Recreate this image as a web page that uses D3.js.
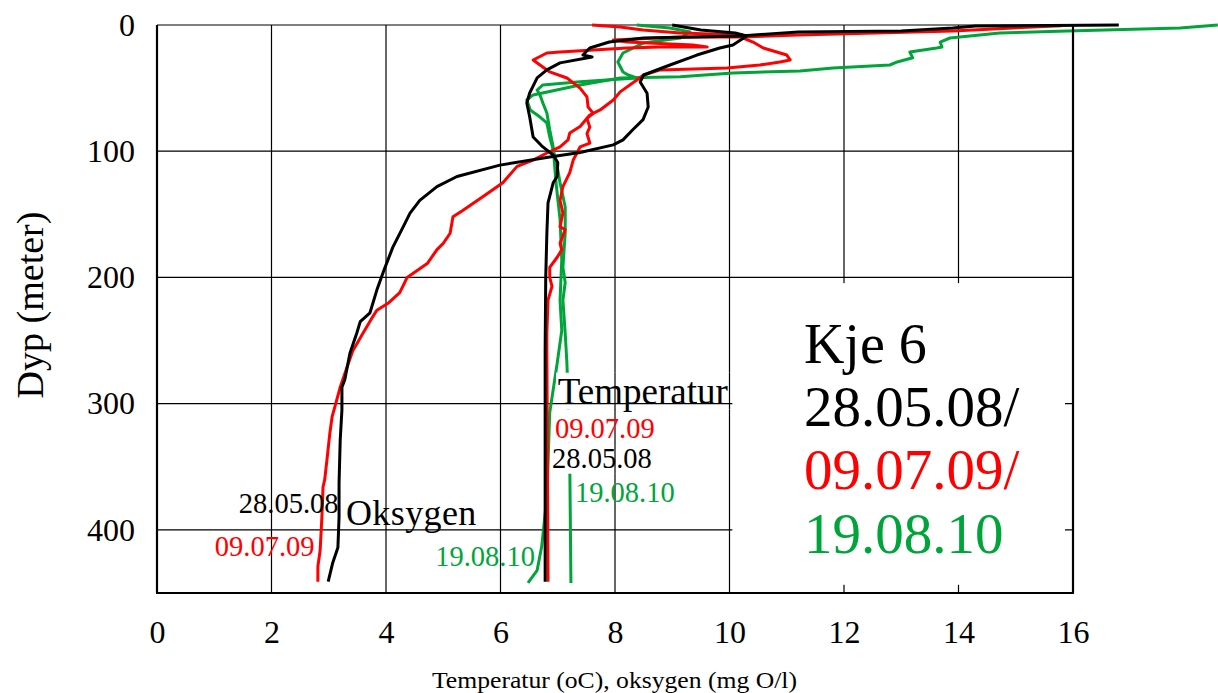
<!DOCTYPE html>
<html>
<head>
<meta charset="utf-8">
<script src="https://cdn.jsdelivr.net/npm/d3@7"></script>
<style>
  body { margin: 0; background: #fff; }
  svg { display: block; font-family: "Liberation Serif", "Times New Roman", serif; }
</style>
</head>
<body>
<div id="chart"></div>
<script>
// axis ticks
var tempTicks = [0, 2, 4, 6, 8, 10, 12, 14, 16];
var depthTicks = [0, 100, 200, 300, 400];

// profiles as [value, depth]
// 28.05.08
var tempBlack = [[16.8,0],[14.3,0.8],[13.9,2.4],[13.0,4.8],[11.2,5.5],[10.2,8.7],[9.4,9.5],[8.5,10.3],[7.9,13.5],[7.56,18.2],[7.44,23.8],[7.6,25.3],[7.04,30],[6.81,35.6],[6.64,41.9],[6.51,53.9],[6.46,61.8],[6.51,72.9],[6.57,88.7],[6.74,96.6],[6.92,103],[7.0,109],[6.99,120],[6.92,125],[6.83,141],[6.81,165],[6.79,200],[6.78,257],[6.78,441]];
var oxyBlack = [[9.0,0],[9.3,2.4],[9.5,4],[10.1,6.3],[10.3,8.7],[10.06,15.8],[9.83,18.2],[9.43,23.8],[9.3,26.1],[8.96,31.7],[8.5,39.6],[8.44,45.1],[8.56,54],[8.58,65],[8.49,75],[8.31,83],[8.14,91],[7.97,95],[7.39,101],[6.86,104.5],[5.99,111],[5.24,120],[4.89,128],[4.59,139],[4.42,149],[4.3,160],[4.12,176],[3.95,196],[3.84,210],[3.72,228],[3.55,235],[3.49,244],[3.37,260],[3.28,281],[3.23,287],[3.23,305],[3.2,329],[3.18,363],[3.18,390],[3.16,414],[3.07,426],[2.99,441]];
// 09.07.09
var tempRed = [[15.8,0.5],[13.9,4.7],[11.2,8],[10.2,9.5],[9.1,9.5],[7.97,11.9],[8.21,13.5],[9.36,15.8],[9.61,17.4],[8.79,17.4],[8.21,18.2],[7.62,19.8],[7.04,21.4],[6.81,22.2],[6.57,27.7],[6.69,31.7],[6.86,37.2],[7.16,42],[7.39,50],[7.51,57],[7.53,65],[7.62,70],[7.51,74],[7.56,81],[7.51,86],[7.56,93.5],[7.39,96.6],[7.27,107],[7.21,117],[7.09,128],[7.04,139],[7.09,149],[7.04,160],[7.13,162],[7.04,173],[7.07,178],[6.99,184],[6.86,192],[6.86,200],[6.9,207],[6.83,218],[6.81,244],[6.81,257],[6.83,441]];
var oxyRed = [[7.6,0],[8.09,1.6],[8.49,4],[9.14,6.3],[10.22,8],[10.24,10.3],[10.41,13.5],[10.59,18.2],[11.0,23.8],[11.06,27.7],[10.88,29.3],[10.53,31.7],[9.96,34],[8.79,35.6],[8.5,39.6],[8.38,43.6],[8.09,53],[7.97,59.4],[7.74,67.3],[7.56,71.3],[7.39,80.4],[7.21,85.5],[7.18,91],[7.04,96.6],[6.81,101.4],[6.57,107],[6.29,112],[6.04,125],[5.69,136],[5.34,147],[5.17,152],[5.12,165],[5.0,173],[4.89,178],[4.72,189],[4.37,200],[4.24,212],[4.05,220],[3.84,226],[3.77,231],[3.6,244],[3.42,258],[3.32,271],[3.2,287],[3.11,302],[3.06,310],[3.02,323],[2.97,344],[2.93,360],[2.9,366],[2.88,390],[2.85,416],[2.81,429],[2.81,441]];
// 19.08.10
var tempGreen = [[18.53,0],[17.87,2.4],[15.9,4.8],[14.72,6.3],[13.85,10.3],[13.68,13.5],[13.71,17.4],[13.62,18.2],[13.15,21.4],[13.2,26],[12.93,29.3],[12.8,31.7],[11.81,34],[11.23,36.4],[10.06,38],[9.14,41],[8.09,42],[7.39,47.5],[6.57,55.4],[6.46,59.4],[6.52,67.3],[6.69,72.9],[6.81,77.6],[6.86,88.7],[6.92,99],[6.99,112],[7.04,125],[7.13,144],[7.13,165],[7.09,192],[7.13,204],[7.09,218],[7.13,244],[7.16,268],[7.18,295],[7.21,347],[7.23,442]];
var oxyGreen = [[8.38,0],[8.96,2.4],[9.31,5.5],[9.14,10.3],[8.49,14.3],[8.14,22.2],[8.05,29.3],[8.14,37.2],[8.23,39.6],[8.38,42],[7.39,45],[6.74,47.5],[6.64,51.5],[6.69,55.4],[6.74,61.8],[6.81,69.7],[6.86,83],[6.92,96.6],[6.97,125],[7.04,154],[7.07,186],[7.04,218],[7.07,242],[6.99,268],[6.9,295],[6.86,307],[6.83,347],[6.81,374],[6.72,413],[6.64,432],[6.48,442]];

var width = 1218, height = 693;
var green = "#00a53a", red = "#ff0000", black = "#000000";

var svg = d3.select("#chart").append("svg")
    .attr("width", width)
    .attr("height", height);

var x = d3.scaleLinear().domain([0, 16]).range([157, 1073]);
var y = d3.scaleLinear().domain([0, 450]).range([25, 593]);

var defs = svg.append("defs");

// grid
function drawGrid(g) {
    g.selectAll(".vg").data(tempTicks.slice(1)).enter().append("line")
        .attr("x1", d => x(d)).attr("x2", d => x(d))
        .attr("y1", y(0)).attr("y2", y(450))
        .attr("stroke", "#000").attr("stroke-width", 1.2);
    g.selectAll(".hg").data(depthTicks).enter().append("line")
        .attr("x1", x(0)).attr("x2", x(16))
        .attr("y1", d => y(d)).attr("y2", d => y(d))
        .attr("stroke", "#000").attr("stroke-width", 1.2);
}
drawGrid(svg.append("g"));

// profiles
var line = d3.line().x(d => x(d[0])).y(d => y(d[1]));
var series = [
    [tempGreen, green], [oxyGreen, green],
    [tempRed, red], [oxyRed, red],
    [tempBlack, black], [oxyBlack, black]
];
svg.append("g").selectAll("path").data(series).enter().append("path")
    .attr("d", d => line(d[0]))
    .attr("fill", "none")
    .attr("stroke", d => d[1])
    .attr("stroke-width", 3)
    .attr("stroke-linejoin", "round");

// white boxes under the temperature labels (grid drawn again on top of them)
var labelBoxes = [
    [x(6.97), y(275.5), x(10.1), y(304.5)],
    [x(6.95), y(304.5), x(8.8), y(330.5)],
    [x(6.88), y(330.5), x(8.7), y(355.5)]
];
var clip = defs.append("clipPath").attr("id", "lblclip");
labelBoxes.forEach(function (b) {
    svg.append("rect").attr("x", b[0]).attr("y", b[1])
        .attr("width", b[2] - b[0]).attr("height", b[3] - b[1]).attr("fill", "#fff");
    clip.append("rect").attr("x", b[0]).attr("y", b[1])
        .attr("width", b[2] - b[0]).attr("height", b[3] - b[1]);
});
drawGrid(svg.append("g").attr("clip-path", "url(#lblclip)"));

// big white box bottom right
svg.append("rect")
    .attr("x", x(10.05)).attr("y", y(204.5))
    .attr("width", x(15.86) - x(10.05)).attr("height", y(443.5) - y(204.5))
    .attr("fill", "#fff");

// frame
svg.append("line").attr("x1", x(0)).attr("x2", x(0)).attr("y1", y(0)).attr("y2", y(450))
    .attr("stroke", "#000").attr("stroke-width", 2.2);
svg.append("line").attr("x1", x(16)).attr("x2", x(16)).attr("y1", y(0)).attr("y2", y(450))
    .attr("stroke", "#000").attr("stroke-width", 2.2);
svg.append("line").attr("x1", x(0) - 1).attr("x2", x(16) + 1).attr("y1", y(450)).attr("y2", y(450))
    .attr("stroke", "#000").attr("stroke-width", 2.2);

// axes
var serif = '"Liberation Serif", "Times New Roman", serif';
var gy = svg.append("g").attr("transform", "translate(" + x(0) + ",0)")
    .call(d3.axisLeft(y).tickValues(depthTicks).tickSize(0).tickPadding(22));
gy.select(".domain").remove();
gy.attr("font-family", serif).attr("font-size", 32);
gy.selectAll("text").attr("fill", "#000");

var gx = svg.append("g").attr("transform", "translate(0," + y(450) + ")")
    .call(d3.axisBottom(x).tickValues(tempTicks).tickSize(0).tickPadding(27));
gx.select(".domain").remove();
gx.attr("font-family", serif).attr("font-size", 32);
gx.selectAll("text").attr("fill", "#000");

// axis titles
svg.append("text")
    .attr("transform", "translate(43,305) rotate(-90)")
    .attr("text-anchor", "middle")
    .attr("font-size", 38)
    .text("Dyp (meter)");

svg.append("text")
    .attr("x", 432).attr("y", 688)
    .attr("font-size", 24)
    .attr("textLength", 365)
    .attr("lengthAdjust", "spacingAndGlyphs")
    .text("Temperatur (oC), oksygen (mg O/l)");

// curve labels
function label(txt, vx, vd, color, size) {
    return svg.append("text").attr("x", x(vx)).attr("y", y(vd))
        .attr("fill", color).attr("font-size", size).text(txt);
}
label("Temperatur", 7.0, 300, black, 37);
label("09.07.09", 6.95, 327, red, 28.5);
label("28.05.08", 6.9, 351, black, 28.5);
label("19.08.10", 7.3, 378, green, 28.5);
label("28.05.08", 1.43, 386.5, black, 28.5);
label("Oksygen", 3.3, 396, black, 36).attr("letter-spacing", 0.4);
label("09.07.09", 1.01, 421, red, 28.5);
label("19.08.10", 4.86, 428.5, green, 28.5);

// station title
label("Kje 6", 11.3, 267.5, black, 56);
label("28.05.08/", 11.3, 318, black, 57);
label("09.07.09/", 11.3, 368, red, 57);
label("19.08.10", 11.3, 418, green, 57);
</script>
</body>
</html>
